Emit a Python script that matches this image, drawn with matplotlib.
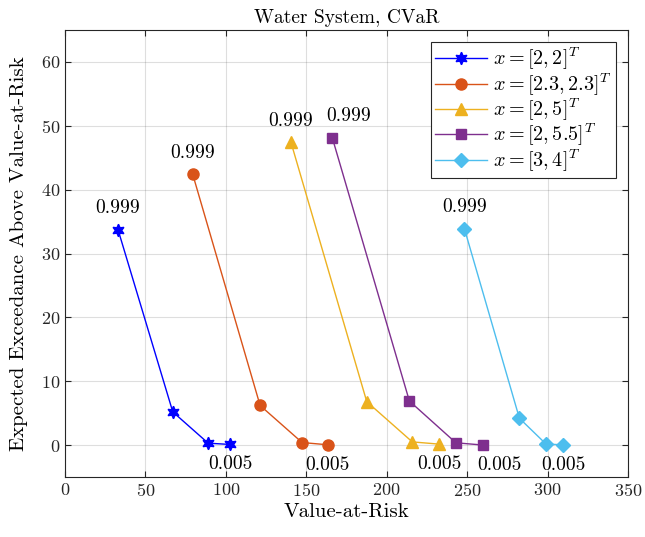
import numpy as np
import matplotlib.pyplot as plt

plt.rcParams['font.family'] = 'serif'
plt.rcParams['font.serif'] = ['cmr10']
plt.rcParams['mathtext.fontset'] = 'cm'
plt.rcParams['axes.formatter.use_mathtext'] = True

# data (VaR, expected exceedance)
labels = [r'$x = [2, 2]^T$', r'$x = [2.3, 2.3]^T$', r'$x = [2, 5]^T$',
          r'$x = [2, 5.5]^T$', r'$x = [3, 4]^T$']
var_vals = [[33.0, 67.0, 89.0, 102.6],
            [79.4, 121.3, 147.4, 163.3],
            [140.5, 187.6, 215.9, 232.6],
            [166.2, 214.1, 243.0, 260.1],
            [248.3, 282.5, 299.1, 309.9]]
exc_vals = [[33.7, 5.2, 0.3, 0.1],
            [42.4, 6.2, 0.4, 0.05],
            [47.4, 6.8, 0.5, 0.15],
            [48.1, 6.9, 0.36, 0.0],
            [33.9, 4.2, 0.15, 0.05]]
alpha_hi = '0.999'
alpha_lo = '0.005'

colors = [(0, 0, 1), (0.85, 0.325, 0.098), (0.929, 0.694, 0.125),
          (0.494, 0.184, 0.556), (0.301, 0.745, 0.933)]
markers = [(6, 1, 0), 'o', '^', 's', 'D']
msizes = [9, 8, 9, 7, 7.5]
lbl_shift = [0, 0, 0, 10, 0]  # purple labels nudged right so they don't overlap

fig = plt.figure(figsize=(6.45, 5.37), dpi=100)
ax = fig.add_axes([0.1008, 0.1117, 0.8728, 0.8324])

for i in range(5):
    # trailing \; keeps the superscript T off the legend frame
    ax.plot(var_vals[i], exc_vals[i], color=colors[i], marker=markers[i],
            markersize=msizes[i], linewidth=1, label=labels[i][:-1] + r'\;$')
    ax.text(var_vals[i][0] + lbl_shift[i], exc_vals[i][0] + 2.0, alpha_hi,
            ha='center', va='bottom', fontsize=14)
    ax.text(var_vals[i][-1] + lbl_shift[i], exc_vals[i][-1] - 1.7, alpha_lo,
            ha='center', va='top', fontsize=14)

ax.set_xlim(0, 350)
ax.set_ylim(-5, 65)
ax.set_xticks(np.arange(0, 351, 50))
ax.set_yticks(np.arange(0, 61, 10))
ax.grid(True, color=(0.15, 0.15, 0.15), alpha=0.15, linewidth=0.8)
ax.set_axisbelow(True)
ax.tick_params(direction='in', top=True, right=True, labelsize=13,
               colors=(0.15, 0.15, 0.15), length=4)
for sp in ax.spines.values():
    sp.set_color((0.15, 0.15, 0.15))
    sp.set_linewidth(0.8)

ax.set_xlabel('Value-at-Risk', fontsize=15, labelpad=3)
ax.set_ylabel('Expected Exceedance Above Value-at-Risk', fontsize=15, labelpad=9)
ax.set_title('Water System, CVaR', fontsize=14, pad=5)

leg = ax.legend(loc='upper right', fontsize=14.5, fancybox=False,
                edgecolor=(0.15, 0.15, 0.15), framealpha=1,
                handlelength=2.6, borderpad=0.2, labelspacing=-0.05,
                handletextpad=0.3, borderaxespad=0.6)
leg.get_frame().set_linewidth(0.8)

plt.savefig('out.png')
